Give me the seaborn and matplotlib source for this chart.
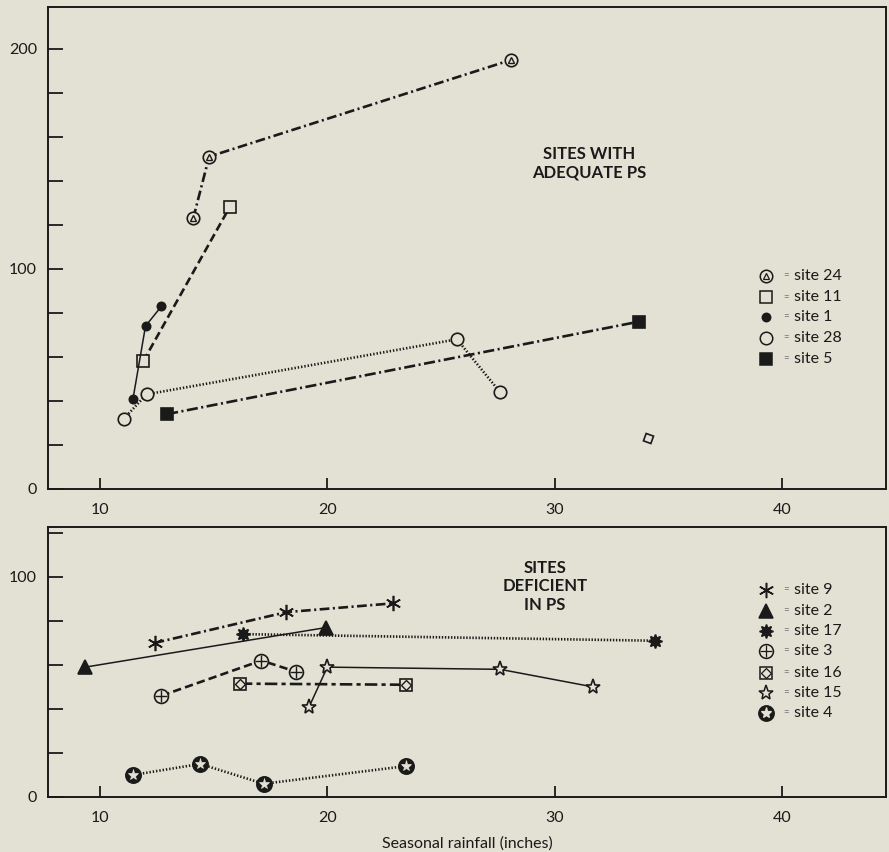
import matplotlib
matplotlib.use("Agg")
import matplotlib.pyplot as plt
import seaborn as sns
from matplotlib.ticker import FixedLocator, FuncFormatter

# ---- data (x = seasonal rainfall, y = yield) ----
# top panel: sites with adequate PS
site24_x = [14.1, 14.8, 28.1]
site24_y = [123, 151, 195]
site11_x = [11.9, 15.7]
site11_y = [58, 128]
site1_x = [11.45, 12.0, 12.7]
site1_y = [41, 74, 83]
site28_x = [11.05, 12.05, 25.7, 27.6]
site28_y = [32, 43, 68, 44]
site5_x = [12.95, 33.7]
site5_y = [34, 76]
stray_x = [34.1]
stray_y = [23]

# bottom panel: sites deficient in PS
site9_x = [12.4, 18.2, 22.9]
site9_y = [70, 84, 88]
site2_x = [9.35, 19.95]
site2_y = [59, 77]
site17_x = [16.3, 34.4]
site17_y = [74, 71]
site3_x = [12.7, 17.1, 18.6]
site3_y = [46, 62, 57]
site16_x = [16.15, 23.45]
site16_y = [51.5, 51]
site15_x = [19.2, 20.0, 27.6, 31.7]
site15_y = [41, 59, 58, 50]
site4_x = [11.45, 14.4, 17.2, 23.45]
site4_y = [10, 15, 6, 14]

xticks = [10, 20, 30, 40]
top_labels = [0, 100, 200]
bottom_labels = [0, 100]

BG = "#e3e1d3"
INK = "#1a1a1a"

sns.set_theme(style="ticks")
plt.rcParams["font.family"] = ["Lato", "DejaVu Sans"]
plt.rcParams["lines.scale_dashes"] = False

fig = plt.figure(figsize=(8.89, 8.52), dpi=100, facecolor=BG)
ax1 = fig.add_axes([0.054, 0.4261, 0.9426, 0.5657])
ax2 = fig.add_axes([0.054, 0.0646, 0.9426, 0.3169])


def draw(ax, x, y, ls, lw, marker, ms, filled, zorder=3):
    sns.lineplot(x=x, y=y, ax=ax, sort=False, estimator=None, color=INK,
                 lw=lw, linestyle=ls, marker=marker, ms=ms,
                 mfc=INK if filled else BG, mec=INK, mew=1.2, zorder=zorder)


def overlay(ax, x, y, marker, ms, mfc="none", mec=INK, mew=1.0):
    ax.plot(x, y, ls="none", marker=marker, ms=ms, mfc=mfc, mec=mec,
            mew=mew, zorder=5)


dashdot = (0, (7, 2.5, 1.5, 2.5))
dashed = (0, (6, 3))
dotted = (0, (1, 1.4))

# top panel
draw(ax1, site24_x, site24_y, dashdot, 1.9, "o", 9, False)
overlay(ax1, site24_x, site24_y, "^", 5)
draw(ax1, site11_x, site11_y, dashed, 1.9, "s", 8, False)
draw(ax1, site1_x, site1_y, "-", 1.1, "o", 6, True)
draw(ax1, site28_x, site28_y, dotted, 1.9, "o", 9, False)
draw(ax1, site5_x, site5_y, (0, (8, 2.5, 1.5, 2.5)), 1.9, "s", 8, True)
overlay(ax1, stray_x, stray_y, (4, 0, 25), 8, mfc=BG, mew=1.2)

# bottom panel
draw(ax2, site9_x, site9_y, dashdot, 1.9, (6, 2, 0), 11, False)
draw(ax2, site2_x, site2_y, "-", 1.1, "^", 10, True)
draw(ax2, site17_x, site17_y, (0, (1, 1.2)), 1.9, (8, 1, 0), 10, True)
draw(ax2, site3_x, site3_y, dashed, 1.9, "o", 10, False)
overlay(ax2, site3_x, site3_y, "+", 8)
draw(ax2, site16_x, site16_y, (0, (9, 3, 3, 3)), 1.9, "s", 9, False)
overlay(ax2, site16_x, site16_y, "D", 5)
draw(ax2, site15_x, site15_y, "-", 1.1, "*", 11, False)
draw(ax2, site4_x, site4_y, dotted, 1.9, "o", 11, True)
overlay(ax2, site4_x, site4_y, "*", 8, mfc=BG, mec=BG, mew=0.5)

# keys
def key(ax, rows, ys):
    for (marker, ms, filled, inner), yy in zip(rows, ys):
        ax.plot([0.857], [yy], transform=ax.transAxes, marker=marker, ms=ms,
                mfc=INK if filled else BG, mec=INK, mew=1.1, ls="none",
                clip_on=False, zorder=6)
        if inner is not None:
            m, s, fc, ec = inner
            ax.plot([0.857], [yy], transform=ax.transAxes, marker=m, ms=s,
                    mfc=fc, mec=ec, mew=0.9, ls="none", clip_on=False, zorder=7)


top_rows = [("o", 9, False, ("^", 5, "none", INK)),
            ("s", 8, False, None),
            ("o", 6, True, None),
            ("o", 9, False, None),
            ("s", 8, True, None)]
top_names = ["site 24", "site 11", "site 1", "site 28", "site 5"]
top_ys = [0.442, 0.398, 0.357, 0.313, 0.270]

bot_rows = [((6, 2, 0), 11, False, None),
            ("^", 10, True, None),
            ((8, 1, 0), 10, True, None),
            ("o", 10, False, ("+", 8, "none", INK)),
            ("s", 9, False, ("D", 5, "none", INK)),
            ("*", 11, False, None),
            ("o", 11, True, ("*", 8, BG, BG))]
bot_names = ["site 9", "site 2", "site 17", "site 3", "site 16", "site 15", "site 4"]
bot_ys = [0.767, 0.689, 0.615, 0.541, 0.459, 0.385, 0.311]

key(ax1, top_rows, top_ys)
key(ax2, bot_rows, bot_ys)
for ax, names, ys in [(ax1, top_names, top_ys), (ax2, bot_names, bot_ys)]:
    for name, yy in zip(names, ys):
        ax.text(0.878, yy, "=", transform=ax.transAxes, fontsize=7,
                color="#777777", va="center", ha="left")
        ax.text(0.890, yy, name, transform=ax.transAxes, fontsize=11.5,
                color=INK, va="center", ha="left")

ax1.text(0.646, 0.675, "SITES WITH\nADEQUATE PS", transform=ax1.transAxes,
         ha="center", va="center", fontsize=12, fontweight="bold",
         linespacing=1.2, color=INK)
ax2.text(0.593, 0.78, "SITES\nDEFICIENT\nIN PS", transform=ax2.transAxes,
         ha="center", va="center", fontsize=12, fontweight="bold",
         linespacing=1.2, color=INK)

# axes styling
for ax, top, labels in [(ax1, 219, top_labels), (ax2, 122.7, bottom_labels)]:
    ax.set_facecolor(BG)
    ax.set_xlim(7.71, 44.58)
    ax.set_ylim(0, top)
    ax.xaxis.set_major_locator(FixedLocator(xticks))
    ax.yaxis.set_major_locator(FixedLocator(list(range(0, int(top) + 1, 20))))
    ax.yaxis.set_major_formatter(FuncFormatter(
        lambda v, p, labels=labels: f"{int(v)}" if int(v) in labels else ""))
    ax.tick_params(axis="y", direction="in", length=11, width=1.3,
                   labelsize=11.5, pad=8, colors=INK)
    ax.tick_params(axis="x", direction="in", length=8, width=1.3,
                   labelsize=11.5, pad=10, colors=INK)
    for sp in ax.spines.values():
        sp.set_visible(True)
        sp.set_color(INK)
        sp.set_linewidth(1.4)
    ax.set_xlabel("")
    ax.set_ylabel("")

ax2.set_xlabel("Seasonal rainfall (inches)", fontsize=11.5, color=INK, labelpad=8)

fig.savefig("out.png", dpi=100, facecolor=BG)
